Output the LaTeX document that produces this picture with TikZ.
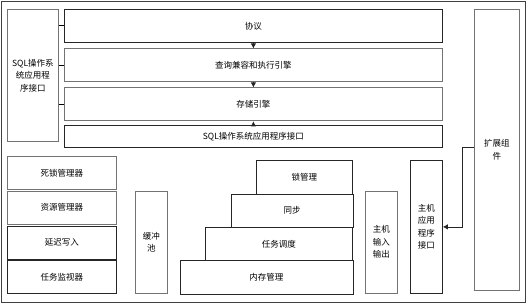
\documentclass[tikz,border=0pt]{standalone}
\usepackage{fontspec}
\newfontfamily\cjk{Noto Sans CJK SC}
\usetikzlibrary{arrows.meta,positioning}

\begin{document}
\begin{tikzpicture}[x=1pt, y=-1pt, >={Latex[length=5pt,width=5.5pt]}, line width=0.8pt,
    box/.style={rectangle, draw=black!85, anchor=north west, inner sep=0pt, align=center,
        font=\cjk\fontsize{8.5}{12.5}\selectfont},
    greybox/.style={box, draw=black!55},
    line/.style={draw=black!85, ->, line width=0.8pt}]

    \useasboundingbox (0,0) rectangle (528,305);
    \node [box, draw=black!75, minimum width=524pt, minimum height=301pt] (frame) at (1,1) {};

    % top layers
    \node [greybox, minimum width=51pt, minimum height=132pt] (apileft) at (7,9) {SQL操作系\\统应用程\\序接口};
    \node [box, minimum width=378pt, minimum height=33pt] (proto) at (64,9) {协议};
    \node [greybox, minimum width=378pt, minimum height=33pt] (query) at (64,48.5) {查询兼容和执行引擎};
    \node [greybox, minimum width=378pt, minimum height=33pt] (store) at (64,87.5) {存储引擎};
    \node [box, minimum width=378pt, minimum height=22pt] (sqlbar) at (64,125) {SQL操作系统应用程序接口};
    \node [greybox, minimum width=45pt, minimum height=281pt] (ext) at (474,9) {扩展组\\件};

    \draw (apileft.east |- proto.west) -- (proto.west);
    \draw (apileft.east |- query.west) -- (query.west);
    \draw (apileft.east |- store.west) -- (store.west);

    \draw[line] (proto) -- (query);
    \draw[line] (query) -- (store);
    \draw[line] (sqlbar) -- (store);

    % lower left stack
    \node [greybox, minimum width=109pt, minimum height=33pt] (deadlock) at (7,156) {死锁管理器};
    \node [greybox, minimum width=109pt, minimum height=33pt] (resource) at (7,190.5) {资源管理器};
    \node [box, minimum width=109pt, minimum height=33pt] (lazy) at (7,225.5) {延迟写入};
    \node [box, minimum width=109pt, minimum height=33pt] (monitor) at (7,260) {任务监视器};
    \node [greybox, minimum width=32pt, minimum height=102.5pt] (buffer) at (135,190.5) {缓冲\\池};

    % staircase
    \node [box, minimum width=96pt, minimum height=33.5pt] (lockmgr) at (256,160) {锁管理};
    \node [box, minimum width=121.5pt, minimum height=33.5pt] (sync) at (231,193.5) {同步};
    \node [box, minimum width=147pt, minimum height=33.5pt] (sched) at (205,226.7) {任务调度};
    \node [box, minimum width=173pt, minimum height=33.5pt] (memmgr) at (179.5,260) {内存管理};

    % host side
    \node [greybox, minimum width=32pt, minimum height=102.5pt] (hostio) at (365,190.5) {主机\\输入\\输出};
    \node [box, minimum width=32pt, minimum height=133pt] (hostapi) at (410,160) {主机\\应用\\程序\\接口};

    \draw[line] ([yshift=2.5pt]ext.west) -- ++(-12,0) |- (hostapi.east);

\end{tikzpicture}
\end{document}
